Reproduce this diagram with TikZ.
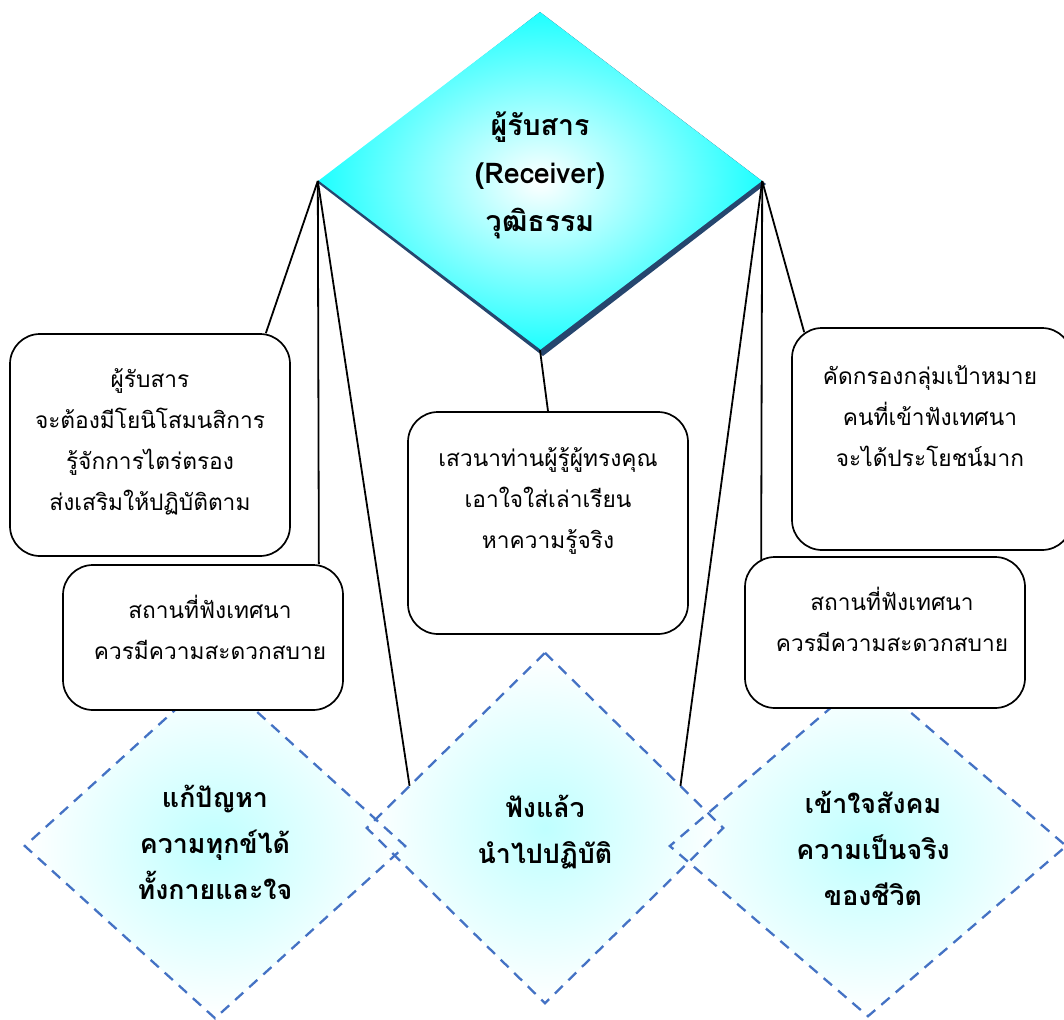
\documentclass[tikz,border=0pt]{standalone}
\usepackage{fontspec}
\newfontfamily\thai[Script=Thai]{Loma}
\usetikzlibrary{shapes.geometric,calc}
\definecolor{topcyan}{RGB}{30,255,255}
\definecolor{shadowblue}{RGB}{38,70,110}
\definecolor{dashblue}{RGB}{68,114,196}
\tikzset{
  topdia/.style={diamond,inner sep=0pt,shading=radial,inner color=white,outer color=topcyan},
  lowdia/.style={diamond,inner sep=0pt,shading=radial,inner color=cyan!25,outer color=white},
  lowedge/.style={draw=dashblue,line width=2.3pt,dash pattern=on 11pt off 8pt},
  box/.style={draw=black,fill=white,rounded corners=30pt,line width=1.7pt,minimum width=280pt,inner sep=0pt},
  link/.style={draw=black,line width=1.8pt},
  boxtext/.style={align=center,font=\thai\fontsize{22.7}{41}\selectfont},
  diatext/.style={align=center,font=\thai\bfseries\fontsize{26.8}{46}\selectfont},
  toptext/.style={align=center,font=\thai\bfseries\fontsize{28.5}{48}\selectfont}
}
\begin{document}
\begin{tikzpicture}[x=1pt,y=-1pt]
\useasboundingbox (0,0) rectangle (1064,1019);
% bottom diamonds: fills
\node[lowdia,minimum width=380pt,minimum height=344pt] (A) at (215,846) {};
\node[lowdia,minimum width=396pt,minimum height=340pt] (B) at (868,846) {};
\node[lowdia,minimum width=356pt,minimum height=350pt] (M) at (545,828) {};
% dashed borders
\draw[lowedge] (A.north) -- (A.east) -- (A.south) -- (A.west) -- cycle;
\draw[lowedge] (B.north) -- (B.east) -- (B.south) -- (B.west) -- cycle;
\draw[lowedge] (M.north) -- (M.east) -- (M.south) -- (M.west) -- cycle;
% top diamond
\coordinate (Tc) at (540,181);
\fill[shadowblue] ($(Tc)+(0,-169)$) -- ($(Tc)+(226,3)$) -- ($(Tc)+(3,175)$) -- ($(Tc)+(-222,2)$) -- cycle;
\node[topdia,minimum width=444pt,minimum height=338pt] (T) at (Tc) {};
\draw[shadowblue,line width=1.4pt] (T.west) -- (T.south);
% boxes
\node[box,minimum height=222pt] (L1) at (150,445) {};
\node[box,minimum height=145pt] (L2) at (203,637.5) {};
\node[box,minimum height=222pt] (C) at (548,523) {};
\node[box,minimum height=222pt] (R1) at (932,439) {};
\node[box,minimum height=151pt] (R2) at (885,632.5) {};
% connectors
\draw[link] (T.west) -- ($(L1.north east)+(-25,0)$);
\draw[link] (T.west) -- ($(L2.north east)+(-25,0)$);
\draw[link] (T.west) -- ($(M.west)!0.24!(M.north)$);
\draw[link] (T.east) -- ($(R1.north west)+(13,5)$);
\draw[link] (T.east) -- ($(R2.north west)+(17,5)$);
\draw[link] (T.east) -- ($(M.north)!0.76!(M.east)$);
\draw[link] (T.south) -- (C.north);
% texts
\node[toptext] (Tt) at (540,175) {ผู้รับสาร\\(Receiver)\\วุฒิธรรม};
\node[boxtext] (L1t) at (150,442) {ผู้รับสาร\\จะต้องมีโยนิโสมนสิการ\\รู้จักการไตร่ตรอง\\ส่งเสริมให้ปฏิบัติตาม};
\node[boxtext] (L2t) at (210,627) {สถานที่ฟังเทศนา\\ควรมีความสะดวกสบาย};
\node[boxtext] (Ct) at (548,501) {เสวนาท่านผู้รู้ผู้ทรงคุณ\\เอาใจใส่เล่าเรียน\\หาความรู้จริง};
\node[boxtext] (R1t) at (930,416) {คัดกรองกลุ่มเป้าหมาย\\คนที่เข้าฟังเทศนา\\จะได้ประโยชน์มาก};
\node[boxtext] (R2t) at (892,619) {สถานที่ฟังเทศนา\\ควรมีความสะดวกสบาย};
\node[diatext] (At) at (215,842) {แก้ปัญหา\\ความทุกข์ได้\\ทั้งกายและใจ};
\node[diatext] (Mt) at (545,832) {ฟังแล้ว\\นำไปปฏิบัติ};
\node[diatext] (Bt) at (873,848) {เข้าใจสังคม\\ความเป็นจริง\\ของชีวิต};
\end{tikzpicture}
\end{document}
